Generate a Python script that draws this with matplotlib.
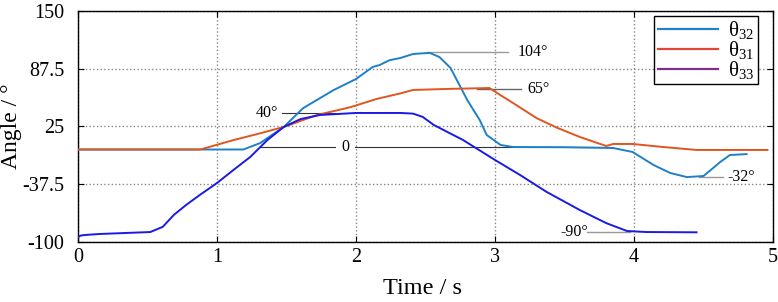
import matplotlib
matplotlib.use("Agg")
import matplotlib.pyplot as plt

plt.rcParams["font.family"] = ["Liberation Serif", "DejaVu Serif"]
plt.rcParams["mathtext.fontset"] = "custom"
plt.rcParams["mathtext.rm"] = "Liberation Serif"
plt.rcParams["mathtext.default"] = "regular"

# theta_32 (time s, angle deg)
t32 = [0, 1.19, 1.31, 1.48, 1.62, 1.84, 2.0, 2.12, 2.17, 2.24, 2.32, 2.41, 2.53,
       2.60, 2.68, 2.80, 2.89, 2.94, 3.04, 3.13, 3.50, 3.85, 3.99, 4.14, 4.26,
       4.38, 4.50, 4.57, 4.62, 4.69, 4.81]
a32 = [0, 0, 7, 24.5, 45, 64.7, 76.6, 89.7, 91.8, 97, 99.5, 103.8, 105,
       100.5, 88.6, 53.8, 32, 15.8, 4.9, 2.7, 2.5, 1.6, -2.7, -16.8, -25.5,
       -30, -28.8, -20, -13.6, -6, -5]

# theta_31
t31 = [0, 0.88, 1.12, 1.29, 1.48, 1.72, 1.96, 2.15, 2.32, 2.41, 2.65, 2.96,
       3.04, 3.13, 3.30, 3.45, 3.61, 3.80, 3.85, 3.99, 4.21, 4.45, 4.96]
a31 = [0, 0, 10.3, 16.8, 24.5, 37.5, 46, 55, 61, 64.7, 65.8, 66.8,
       59, 50.5, 34, 23.4, 13.6, 3.8, 6, 6, 2.7, -0.5, -0.5]

# theta_33
t33 = [0, 0.02, 0.05, 0.16, 0.52, 0.61, 0.69, 0.78, 0.88, 1.0, 1.12, 1.24, 1.36,
       1.48, 1.60, 1.74, 2.0, 2.32, 2.41, 2.48, 2.56, 2.77, 3.0, 3.18, 3.37,
       3.61, 3.80, 3.95, 4.09, 4.45]
a33 = [-95, -93.5, -92.9, -91.8, -89.7, -84, -71, -60, -49, -36.4, -22, -8, 10,
       24.5, 33, 37.5, 39.7, 39.7, 39, 35.4, 26.6, 10.3, -11.4, -27.7, -46,
       -65.8, -80, -88.6, -89.7, -90]

xticks = [0, 1, 2, 3, 4, 5]
yticks = [-100, -37.5, 25, 87.5, 150]
ytick_labels = ["-100", "-37.5", "25", "87.5", "150"]

fig = plt.figure(figsize=(7.78, 3.02), dpi=100)
ax = fig.add_axes([0.1003, 0.2003, 0.8933, 0.7617])

ax.plot(t32, a32, color="#1f80c8", lw=1.4, zorder=3)
ax.plot(t31, a31, color="#e0561e", lw=1.4, zorder=3)
ax.plot(t33, a33, color="#1a1ae6", lw=1.4, zorder=3)

# legend handles (theta_33 shown purple in the original legend)
ax.plot([], [], color="#1f80c8", lw=1.6, label="θ$_{32}$")
ax.plot([], [], color="#e0453a", lw=1.6, label="θ$_{31}$")
ax.plot([], [], color="#7e2f8e", lw=1.6, label="θ$_{33}$")

# annotation leader lines
ax.plot([1.31, 1.85], [2.5, 2.5], color="#333333", lw=0.8, zorder=2)
ax.plot([1.99, 3.85], [2.5, 2.5], color="#333333", lw=0.8, zorder=2)
ax.text(1.92, 2.5, "0", ha="center", va="center", fontsize=11.5)

ax.plot([1.47, 1.85], [40, 40], color="#333333", lw=0.8, zorder=2)
ax.text(1.36, 40, "40°", ha="center", va="center", fontsize=11.5)

ax.plot([2.51, 3.09], [106, 106], color="#999999", lw=1.0, zorder=2)
ax.text(3.16, 106, "104°", ha="left", va="center", fontsize=11.5)

ax.plot([2.87, 3.19], [66, 66], color="#666666", lw=1.0, zorder=2)
ax.text(3.23, 66, "65°", ha="left", va="center", fontsize=11.5)

ax.plot([4.47, 4.64], [-30, -30], color="#999999", lw=1.0, zorder=2)
ax.text(4.67, -30, "-32°", ha="left", va="center", fontsize=11.5)

ax.plot([3.66, 3.97], [-89.7, -89.7], color="#999999", lw=1.0, zorder=2)
ax.text(3.47, -89.7, "-90°", ha="left", va="center", fontsize=11.5)

ax.set_xlim(0, 5)
ax.set_ylim(-100, 150)
ax.set_xticks(xticks)
ax.set_yticks(yticks)
ax.set_yticklabels(ytick_labels)
ax.tick_params(direction="in", top=True, right=True, length=4, labelsize=14.5)
ax.tick_params(axis="x", pad=5)
ax.tick_params(axis="y", pad=10)
ax.grid(True, color="#888888", linestyle=":", linewidth=1.0)
for s in ax.spines.values():
    s.set_linewidth(1.0)

ax.set_xlabel("Time / s", fontsize=17.5)
ax.set_ylabel("Angle / °", fontsize=17)
ax.xaxis.set_label_coords(0.495, -0.16)
ax.yaxis.set_label_coords(-0.08, 0.5)

leg = ax.legend(loc="upper right", fontsize=15, fancybox=False, framealpha=1,
                edgecolor="black", handlelength=2.9, borderpad=0.15,
                labelspacing=-0.1, borderaxespad=0, handletextpad=0.5,
                bbox_to_anchor=(0.978, 0.98))
leg.get_frame().set_linewidth(1.0)

fig.savefig("out.png", dpi=100)
